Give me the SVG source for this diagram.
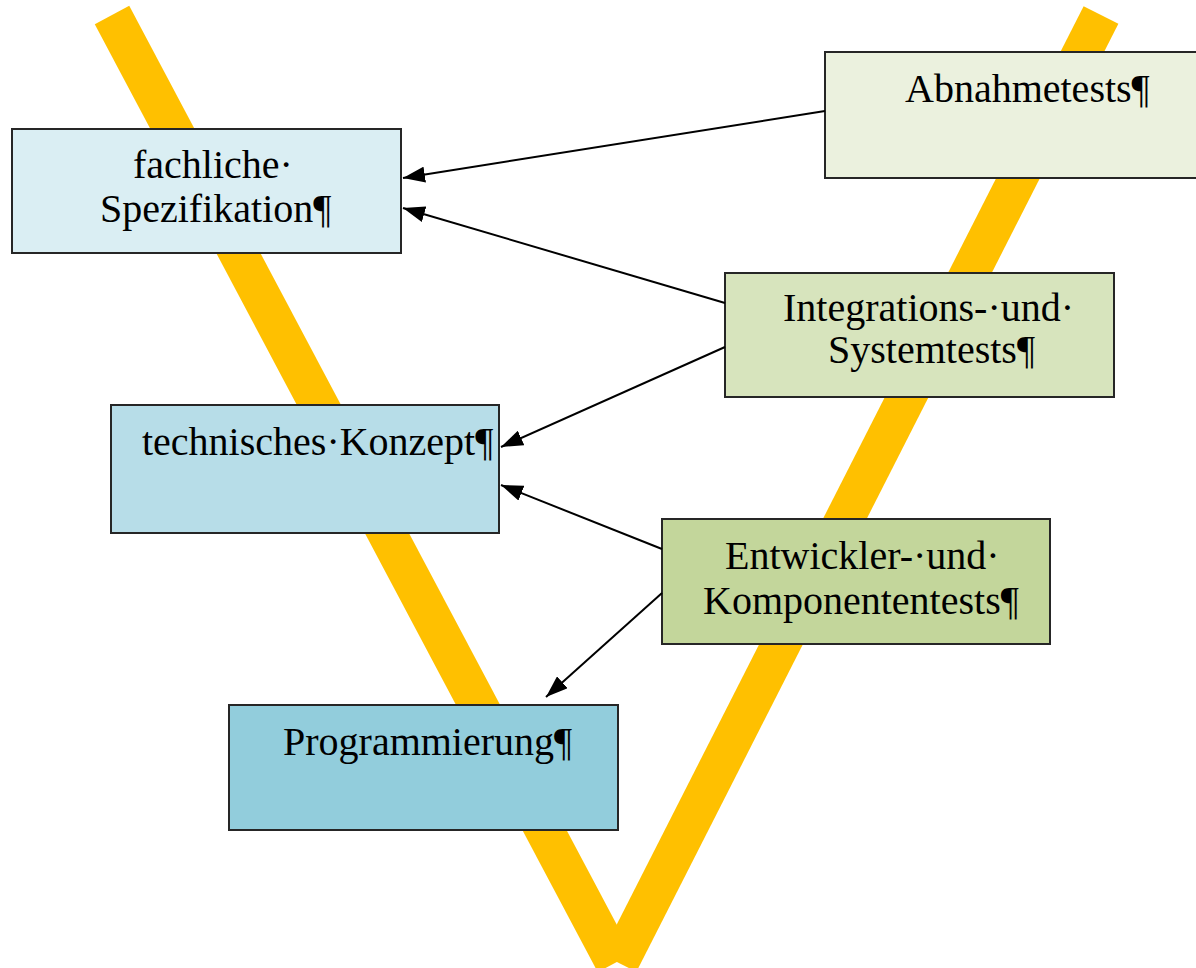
<svg xmlns="http://www.w3.org/2000/svg" width="1196" height="968" viewBox="0 0 1196 968">
<style>
.box{stroke:#262626;stroke-width:2}
.t{font-family:"Liberation Serif","Times New Roman","DejaVu Serif",serif;font-size:40px;fill:#000}
.c{stroke:#000;stroke-width:2;fill:none}
.v{stroke:#FFC000;stroke-width:39;fill:none;stroke-linecap:butt}
</style>
<defs>
<marker id="ah" viewBox="0 0 22 16" refX="22" refY="8" markerWidth="22" markerHeight="16" markerUnits="userSpaceOnUse" orient="auto">
<path d="M0,0 L22,8 L0,16 z" fill="#000"/>
</marker>
</defs>
<rect width="1196" height="968" fill="#fff"/>
<g id="v-shape">
<line class="v" x1="112" y1="15" x2="615" y2="963"/>
<line class="v" x1="1101" y1="15" x2="619" y2="963"/>
</g>
<g id="n-fachliche">
<rect class="box" x="12" y="129" width="389" height="124" fill="#DAEEF3"/>
<text class="t" x="133" y="178" font-family="Liberation Serif, serif">fachliche·</text>
<text class="t" x="100" y="222" font-family="Liberation Serif, serif">Spezifikation¶</text>
</g>
<g id="n-abnahme">
<rect class="box" x="825" y="52" width="380" height="126" fill="#EBF1DE"/>
<text class="t" x="905" y="102" font-family="Liberation Serif, serif">Abnahmetests¶</text>
</g>
<g id="n-integration">
<rect class="box" x="725" y="273" width="389" height="124" fill="#D7E4BD"/>
<text class="t" x="783" y="321" font-family="Liberation Serif, serif">Integrations-·und·</text>
<text class="t" x="828" y="363" font-family="Liberation Serif, serif">Systemtests¶</text>
</g>
<g id="n-technisch">
<rect class="box" x="111" y="405" width="388" height="128" fill="#B7DDE8"/>
<text class="t" x="142" y="455" font-family="Liberation Serif, serif">technisches·Konzept¶</text>
</g>
<g id="n-entwickler">
<rect class="box" x="662" y="519" width="388" height="125" fill="#C3D69B"/>
<text class="t" x="725" y="569" font-family="Liberation Serif, serif">Entwickler-·und·</text>
<text class="t" x="703" y="614" font-family="Liberation Serif, serif">Komponententests¶</text>
</g>
<g id="n-programmierung">
<rect class="box" x="229" y="705" width="389" height="125" fill="#92CDDC"/>
<text class="t" x="283" y="755" font-family="Liberation Serif, serif">Programmierung¶</text>
</g>
<g id="connectors">
<line class="c" x1="825" y1="111" x2="403" y2="178" marker-end="url(#ah)"/>
<line class="c" x1="725" y1="303" x2="403" y2="208" marker-end="url(#ah)"/>
<line class="c" x1="725" y1="347" x2="501" y2="447" marker-end="url(#ah)"/>
<line class="c" x1="662" y1="549" x2="501" y2="485" marker-end="url(#ah)"/>
<line class="c" x1="662" y1="593" x2="546" y2="697" marker-end="url(#ah)"/>
</g>
</svg>
